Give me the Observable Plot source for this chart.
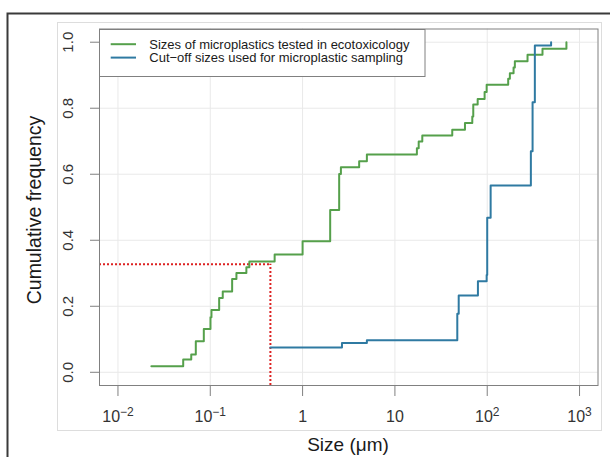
<!DOCTYPE html>
<html><head><meta charset="utf-8">
<script src="https://cdn.jsdelivr.net/npm/d3@7"></script>
<script src="https://cdn.jsdelivr.net/npm/@observablehq/plot@0.6"></script>
<style>
html,body{margin:0;padding:0;background:#fff;}
#chart{position:relative;width:610px;height:457px;overflow:hidden;}
</style></head><body><div id="chart"></div>
<script>
// Green: sizes of microplastics tested in ecotoxicology (µm) and cumulative frequency
const greenSize = [0.023, 0.0509, 0.0622, 0.0697, 0.0851, 0.1005, 0.103, 0.1248, 0.1365, 0.1725, 0.192, 0.246, 0.265, 0.498, 1.0, 1.99, 2.49, 2.6, 4.1, 4.97, 17.3, 18.1, 19.8, 41.8, 57.4, 68.9, 70.6, 78.8, 93.7, 98.6, 168.7, 175.9, 192.9, 199.2, 273.3, 397, 721];
const greenFreq = [0.018, 0.0385, 0.0536, 0.094, 0.131, 0.167, 0.189, 0.225, 0.245, 0.283, 0.301, 0.318, 0.336, 0.357, 0.397, 0.492, 0.601, 0.621, 0.639, 0.66, 0.679, 0.699, 0.717, 0.735, 0.755, 0.775, 0.811, 0.828, 0.849, 0.871, 0.889, 0.906, 0.923, 0.942, 0.962, 0.98, 1.0];
// Blue: cut-off sizes used for microplastic sampling (µm)
const blueSize = [0.448, 2.67, 4.97, 47.4, 49.1, 79.3, 98.6, 100, 108.9, 297, 310, 328, 492];
const blueFreq = [0.075, 0.089, 0.097, 0.177, 0.233, 0.276, 0.295, 0.468, 0.566, 0.67, 0.818, 0.99, 1.0];
// Reference (red dotted) point
const refSize = [0.448];
const refFreq = [0.327];
// Ticks
const xTicks = [0.01, 0.1, 1, 10, 100, 1000];
const xTickLabels = ["10^-2", "10^-1", "1", "10", "10^2", "10^3"];
const yTicks = [0, 0.2, 0.4, 0.6, 0.8, 1.0];
const yTickLabels = ["0.0", "0.2", "0.4", "0.6", "0.8", "1.0"];
const seriesNames = ["Sizes of microplastics tested in ecotoxicology", "Cut\u2212off sizes used for microplastic sampling"];
const seriesColors = ["#55a04b", "#2f7aa2"];
const xTitle = "Size (\u03bcm)";
const yTitle = "Cumulative frequency";

const green = greenSize.map((x, i) => ({x, y: greenFreq[i]}));
const blue = blueSize.map((x, i) => ({x, y: blueFreq[i]}));
const ref = refSize.map((x, i) => ({x, y: refFreq[i]}));
const xDomain = [Math.pow(10, -2.2), Math.pow(10, 3.2)];
const yDomain = [-0.04, 1.04];
const font = "'Liberation Sans', Arial, sans-serif";

const plot = Plot.plot({
  width: 610, height: 457,
  marginLeft: 99, marginRight: 12.5, marginTop: 28.5, marginBottom: 72,
  style: {fontFamily: font, background: "transparent", overflow: "visible"},
  x: {type: "log", domain: xDomain},
  y: {domain: yDomain},
  marks: [
    Plot.gridX(xTicks, {stroke: "#e9e9e9", strokeOpacity: 1}),
    Plot.gridY(yTicks, {stroke: "#e9e9e9", strokeOpacity: 1}),
    Plot.ruleY(ref, {y: "y", x1: () => xDomain[0], x2: "x", stroke: "#dd2222", strokeWidth: 2, strokeDasharray: "2,2"}),
    Plot.ruleX(ref, {x: "x", y1: () => yDomain[0], y2: "y", stroke: "#dd2222", strokeWidth: 2, strokeDasharray: "2,2"}),
    Plot.line(green, {x: "x", y: "y", curve: "step-after", stroke: seriesColors[0], strokeWidth: 2}),
    Plot.line(blue, {x: "x", y: "y", curve: "step-after", stroke: seriesColors[1], strokeWidth: 2}),
    Plot.frame({stroke: "#808080"}),
    Plot.axisX(xTicks, {tickSize: 11, tickFormat: () => "", label: null, stroke: "#808080"}),
    Plot.axisY(yTicks, {tickSize: 9, tickFormat: () => "", label: null, stroke: "#808080"}),
    Plot.text(xTicks, {x: d => d, y: () => yDomain[0], text: d => xTickLabels[xTicks.indexOf(d)], dy: 25, lineAnchor: "top",
      fontSize: 16, fill: "#333", fontFamily: font, className: "xtick"}),
    Plot.text(yTicks, {y: d => d, x: () => xDomain[0], text: d => yTickLabels[yTicks.indexOf(d)], dx: -31.5, rotate: -90,
      lineAnchor: "middle", textAnchor: "middle", fontSize: 15, fill: "#333", fontFamily: font})
  ]
});
document.getElementById("chart").appendChild(plot);

const svg = d3.select(plot);
svg.selectAll('g[aria-label="x-axis tick label"], g[aria-label="y-axis tick label"]').remove();
// superscripts on x tick labels
svg.selectAll('.xtick text').each(function() {
  const t = d3.select(this);
  const s = t.text();
  const parts = s.split("^");
  if (parts.length === 2) {
    t.text(null);
    t.append("tspan").text(parts[0]);
    t.append("tspan").attr("dy", "-0.45em").attr("font-size", 12).text(parts[1].replace("-", "\u2212"));
  }
});
// outer figure frames
svg.insert("rect", ":first-child").attr("x", 57.5).attr("y", 22.5).attr("width", 544).attr("height", 408)
  .attr("fill", "none").attr("stroke", "#dddddd");
svg.append("path").attr("d", "M7.5,457V13.5H610").attr("fill", "none").attr("stroke", "#3a3a3a").attr("stroke-width", 2);
// axis titles
svg.append("text").attr("x", 348).attr("y", 450.5).attr("text-anchor", "middle")
  .attr("font-size", 19).attr("fill", "#1a1a1a").attr("font-family", font).text(xTitle);
svg.append("text").attr("transform", "translate(40.5,210) rotate(-90)").attr("text-anchor", "middle")
  .attr("font-size", 19.5).attr("fill", "#1a1a1a").attr("font-family", font).text(yTitle);
// legend
const lg = svg.append("g").attr("font-family", font).attr("text-anchor", "start");
lg.append("rect").attr("x", 99.5).attr("y", 29.5).attr("width", 325.5).attr("height", 47)
  .attr("fill", "#fff").attr("stroke", "#808080");
seriesNames.forEach((name, i) => {
  const y = 44.2 + i * 13.4;
  lg.append("line").attr("x1", 110.7).attr("x2", 136).attr("y1", y).attr("y2", y)
    .attr("stroke", seriesColors[i]).attr("stroke-width", 2);
  lg.append("text").attr("x", 149.3).attr("y", y).attr("dy", "0.36em").attr("font-size", 13)
    .attr("text-anchor", "start").attr("fill", "#1a1a1a").text(name);
});
</script></body></html>
